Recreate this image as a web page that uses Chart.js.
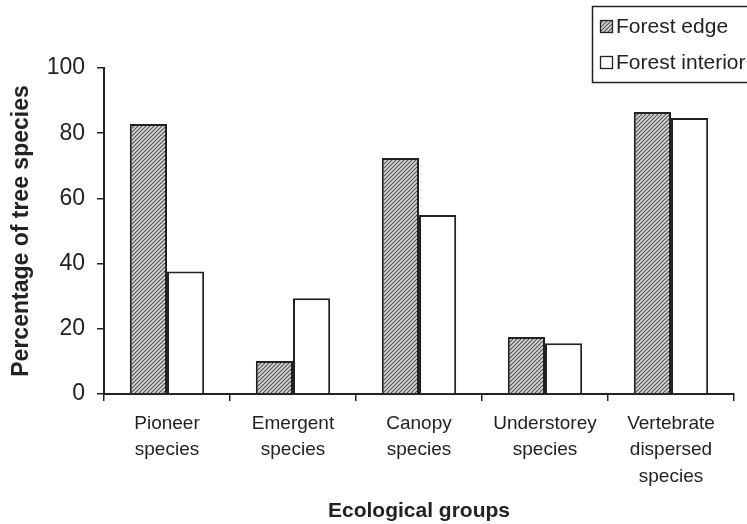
<!DOCTYPE html>
<html>
<head>
<meta charset="utf-8">
<script src="https://cdn.jsdelivr.net/npm/chart.js@4.4.0/dist/chart.umd.min.js"></script>
<style>
html,body{margin:0;padding:0;background:#fff;}
#wrap{width:747px;height:524px;position:relative;}
</style>
</head>
<body>
<div id="wrap"><canvas id="c" width="747" height="524"></canvas></div>
<script>
const categories = [
  ["Pioneer", "species"],
  ["Emergent", "species"],
  ["Canopy", "species"],
  ["Understorey", "species"],
  ["Vertebrate", "dispersed", "species"]
];
const forestEdge = [82.8, 10.1, 72.4, 17.5, 86.5];
const forestInterior = [37.6, 29.4, 54.9, 15.6, 84.7];
const yTicks = [0, 20, 40, 60, 80, 100];
const seriesLabels = ["Forest edge", "Forest interior"];

const FONT = "'Liberation Sans', Arial, Helvetica, sans-serif";
const INK = '#222';

function makeHatch() {
  const p = document.createElement('canvas');
  p.width = 4; p.height = 4;
  const g = p.getContext('2d');
  g.fillStyle = '#d8d8d8';
  g.fillRect(0, 0, 4, 4);
  g.strokeStyle = '#505050';
  g.lineWidth = 1.1;
  g.beginPath();
  g.moveTo(0, 4); g.lineTo(4, 0);
  g.moveTo(-1, 1); g.lineTo(1, -1);
  g.moveTo(3, 5); g.lineTo(5, 3);
  g.stroke();
  return document.getElementById('c').getContext('2d').createPattern(p, 'repeat');
}
const hatch = makeHatch();

const legendBox = {
  id: 'legendBox',
  afterDraw(chart) {
    const ctx = chart.ctx;
    ctx.save();
    ctx.strokeStyle = INK;
    ctx.lineWidth = 1.5;
    ctx.strokeRect(592.5, 6.5, 200, 76);
    const fills = [hatch, '#ffffff'];
    const ys = [26, 62];
    ctx.font = '21px ' + FONT;
    ctx.textBaseline = 'middle';
    ctx.textAlign = 'left';
    for (let i = 0; i < 2; i++) {
      ctx.fillStyle = fills[i];
      ctx.fillRect(600, ys[i] - 6, 13, 13);
      ctx.lineWidth = 1.3;
      ctx.strokeStyle = INK;
      ctx.strokeRect(600.5, ys[i] - 5.5, 12, 12);
      ctx.fillStyle = INK;
      ctx.fillText(chart.data.datasets[i].label, 616, ys[i] + 1);
    }
    ctx.restore();
  }
};

new Chart(document.getElementById('c'), {
  type: 'bar',
  data: {
    labels: categories,
    datasets: [
      { label: seriesLabels[0], data: forestEdge, backgroundColor: hatch, borderColor: INK, borderWidth: 2, borderSkipped: 'bottom' },
      { label: seriesLabels[1], data: forestInterior, backgroundColor: '#ffffff', borderColor: INK, borderWidth: 2, borderSkipped: 'bottom' }
    ]
  },
  options: {
    responsive: false,
    animation: false,
    devicePixelRatio: 1,
    layout: { padding: { left: 0, top: 68, right: 13, bottom: 0 } },
    datasets: { bar: { categoryPercentage: 0.59, barPercentage: 1.0 } },
    plugins: { legend: { display: false }, tooltip: { enabled: false } },
    scales: {
      x: {
        offset: true,
        grid: { offset: true, drawOnChartArea: false, drawTicks: true, tickLength: 7, color: INK, lineWidth: 1.5 },
        border: { display: true, color: INK, width: 2 },
        ticks: { color: INK, font: { family: FONT, size: 19, lineHeight: 1.4 }, padding: 9, maxRotation: 0, autoSkip: false },
        title: { display: true, text: 'Ecological groups', color: INK, font: { family: FONT, size: 21, weight: 'bold' }, padding: { top: 0, bottom: 0 } },
        afterFit(s) { s.height = 130; }
      },
      y: {
        min: 0, max: 100,
        afterBuildTicks(s) { s.ticks = yTicks.map(v => ({ value: v })); },
        grid: { drawOnChartArea: false, drawTicks: true, tickLength: 7, color: INK, lineWidth: 1.5 },
        border: { display: true, color: INK, width: 2 },
        ticks: { color: INK, font: { family: FONT, size: 23 }, padding: 12 },
        title: { display: true, text: 'Percentage of tree species', color: INK, font: { family: FONT, size: 23, weight: 'bold' }, padding: { top: 8, bottom: 0 } },
        afterFit(s) { s.width = 104; }
      }
    }
  },
  plugins: [legendBox]
});
</script>
</body>
</html>
